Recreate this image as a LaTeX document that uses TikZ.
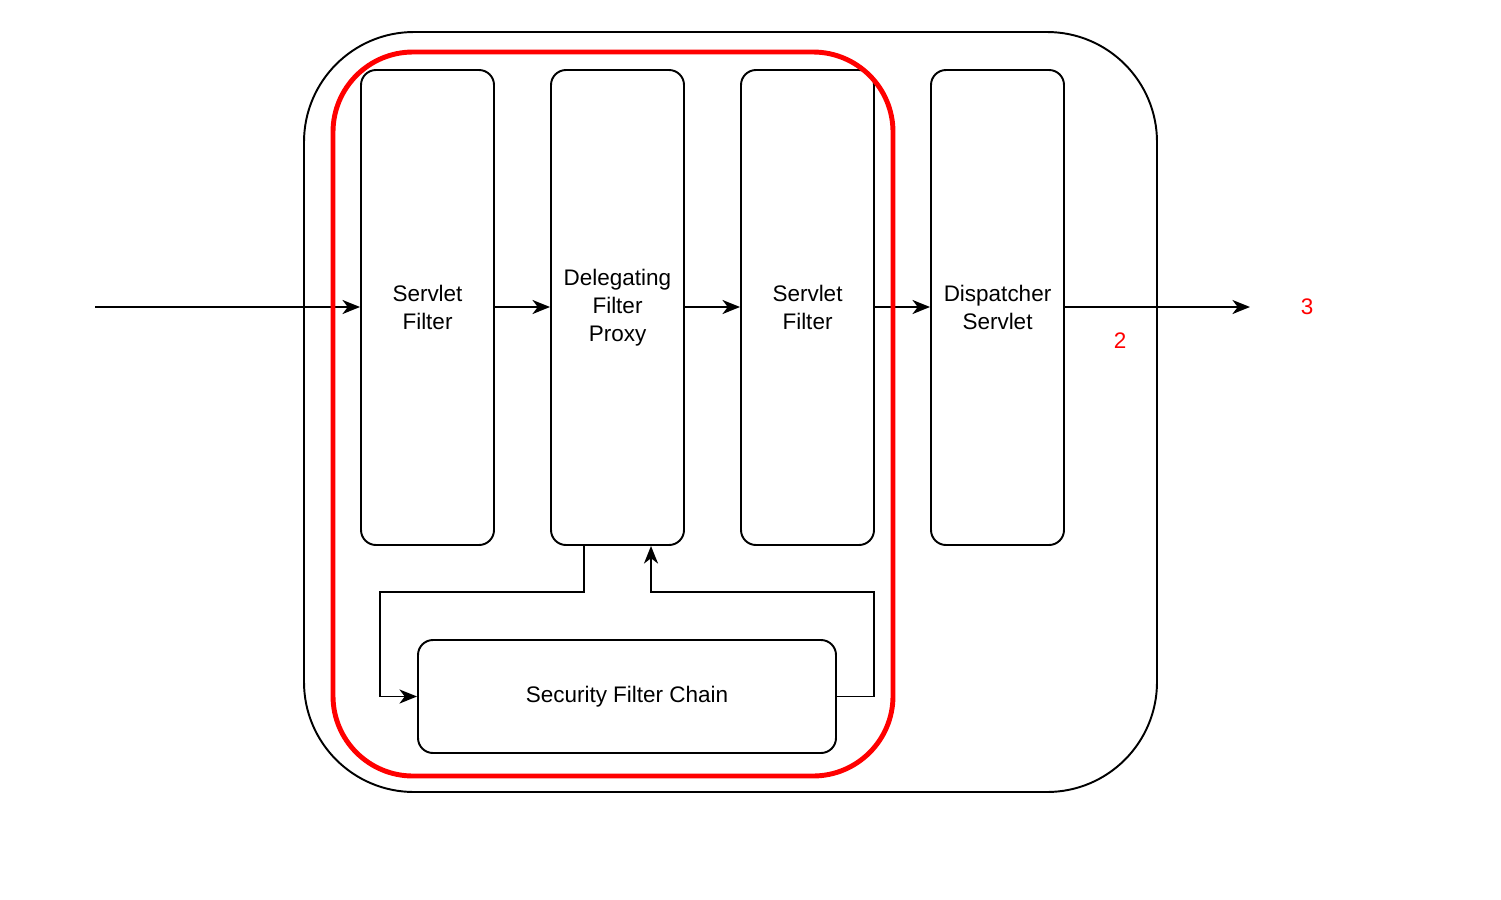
\documentclass[tikz,border=0pt]{standalone}
\usepackage{fontspec}
\setmainfont{Liberation Sans}
\usetikzlibrary{arrows.meta}
\tikzset{
    filterbox/.style={draw, line width=1.1pt, rounded corners=0.3cm, minimum width=2.66cm,
        minimum height=9.5cm, align=center, font=\fontsize{12.8}{16}\selectfont},
    flow/.style={line width=1.1pt, ->},
}
\begin{document}
\begin{tikzpicture}[>={Stealth[length=10pt, width=8pt, inset=3pt]}]
        % --- Cadre de la page ---
        \useasboundingbox (0, 0) rectangle (30.02, -17.98);

        % ==============================================================
        % 1. CONTENEUR (coins arrondis)
        % ==============================================================
        \draw[line width=1.1pt, rounded corners=2.2cm] (6.08, -0.64) rectangle (23.14, -15.84);

        % ==============================================================
        % 2. FILTRES EN COLONNES
        % ==============================================================
        \node[filterbox] (ServletA)    at (8.55, -6.15)  {Servlet\\Filter};
        \node[filterbox] (Delegating)  at (12.35, -6.15) {Delegating\\Filter\\Proxy};
        \node[filterbox] (ServletB)    at (16.15, -6.15) {Servlet\\Filter};
        \node[filterbox] (Dispatcher)  at (19.95, -6.15) {Dispatcher\\Servlet};

        % Chaîne de sécurité
        \node[filterbox, minimum width=8.36cm, minimum height=2.26cm] (Chain) at (12.54, -13.93)
            {Security Filter Chain};

        % Entrée / sortie de la requête
        \coordinate (In)  at (1.9, -6.14);
        \coordinate (Out) at (25.0, -6.14);

        % ==============================================================
        % 3. FLÈCHES PRINCIPALES
        % ==============================================================
        \draw[flow] (In) -- (ServletA.west |- In);
        \draw[flow] (ServletA.east |- In) -- (Delegating.west |- In);
        \draw[flow] (Delegating.east |- In) -- (ServletB.west |- In);
        \draw[flow] (ServletB.east |- In) -- (Dispatcher.west |- In);
        \draw[flow] (Dispatcher.east |- In) -- (Out);

        % Aller-retour vers la chaîne de sécurité
        \draw[flow] (11.68, 0 |- Delegating.south) -- (11.68, -11.84) -- (7.6, -11.84)
            -- (7.6, 0 |- Chain.west) -- (Chain.west);
        \draw[flow] (Chain.east) -- (17.48, 0 |- Chain.east) -- (17.48, -11.84)
            -- (13.02, -11.84) -- (13.02, 0 |- Delegating.south);

        % Repères rouges
        \node[red, font=\fontsize{12.8}{16}\selectfont] (Two)   at (22.4, -6.82) {2};
        \node[red, font=\fontsize{12.8}{16}\selectfont] (Three) at (26.14, -6.14) {3};

        % ==============================================================
        % 4. ZONE ENCADRÉE EN ROUGE
        % ==============================================================
        \draw[red, line width=2.8pt, rounded corners=1.6cm] (6.66, -1.04) rectangle (17.86, -15.52);
    \end{tikzpicture}
\end{document}
